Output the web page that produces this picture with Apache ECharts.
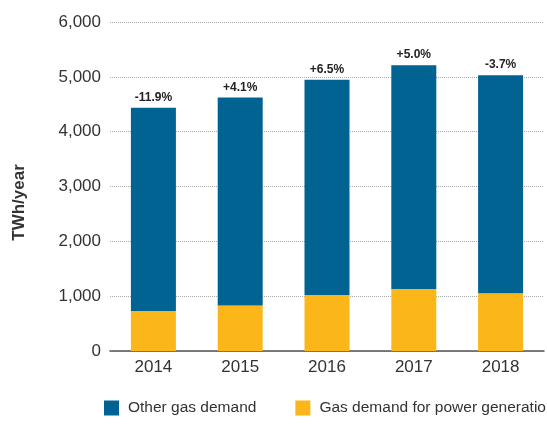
<!DOCTYPE html>
<html>
<head>
<meta charset="utf-8">
<script src="https://cdn.jsdelivr.net/npm/echarts@6/dist/echarts.min.js"></script>
<style>
    html, body { margin: 0; padding: 0; background: #fff; }
    #chart { width: 547px; height: 425px; }
</style>
</head>
<body>
<div id="chart"></div>
<script>
    // data
    var years = ['2014', '2015', '2016', '2017', '2018'];
    var powerGen = [730, 828, 1022, 1131, 1053];
    var otherDemand = [3704, 3796, 3923, 4082, 3978];
    var growth = ['-11.9%', '+4.1%', '+6.5%', '+5.0%', '-3.7%'];

    var FONT = "'Liberation Sans', Arial, sans-serif";

    var chart = echarts.init(document.getElementById('chart'));
    chart.setOption({
        animation: false,
        textStyle: { fontFamily: FONT },
        grid: {
            left: 110,
            right: 3,
            top: 22,
            bottom: 74
        },
        legend: {
            data: ['Other gas demand', 'Gas demand for power generation'],
            left: 104,
            bottom: 4,
            width: 480,
            padding: [5, 0, 5, 0],
            itemWidth: 15,
            itemHeight: 15,
            itemGap: 39,
            icon: 'rect',
            textStyle: {
                fontSize: 15.5, color: '#333', fontFamily: FONT,
                padding: [0, 0, 0, 4]
            }
        },
        xAxis: {
            type: 'category',
            data: years,
            axisTick: { show: false },
            axisLine: { lineStyle: { color: '#555', width: 1.5 } },
            axisLabel: { fontSize: 17, color: '#333', margin: 8, fontFamily: FONT }
        },
        yAxis: {
            type: 'value',
            min: 0,
            max: 6000,
            interval: 1000,
            name: 'TWh/year',
            nameLocation: 'middle',
            nameGap: 82,
            nameTextStyle: {
                fontSize: 17, fontWeight: 'bold', color: '#333', fontFamily: FONT,
                padding: [0, 32, 0, 0]
            },
            axisLine: { show: false },
            axisTick: { show: false },
            axisLabel: {
                fontSize: 17,
                color: '#333',
                margin: 9,
                fontFamily: FONT,
                formatter: function (v) { return v.toLocaleString('en-US'); }
            },
            splitLine: { lineStyle: { type: 'dotted', color: '#aaa' } }
        },
        series: [
            {
                name: 'Gas demand for power generation',
                type: 'bar',
                stack: 'total',
                barWidth: 45,
                data: powerGen,
                itemStyle: { color: '#FBB719' }
            },
            {
                name: 'Other gas demand',
                type: 'bar',
                stack: 'total',
                barWidth: 45,
                data: otherDemand,
                itemStyle: { color: '#006391' },
                label: {
                    show: true,
                    position: 'top',
                    distance: 4,
                    fontSize: 12,
                    fontWeight: 'bold',
                    color: '#222',
                    fontFamily: FONT,
                    formatter: function (p) { return growth[p.dataIndex]; }
                }
            }
        ]
    });
</script>
</body>
</html>
